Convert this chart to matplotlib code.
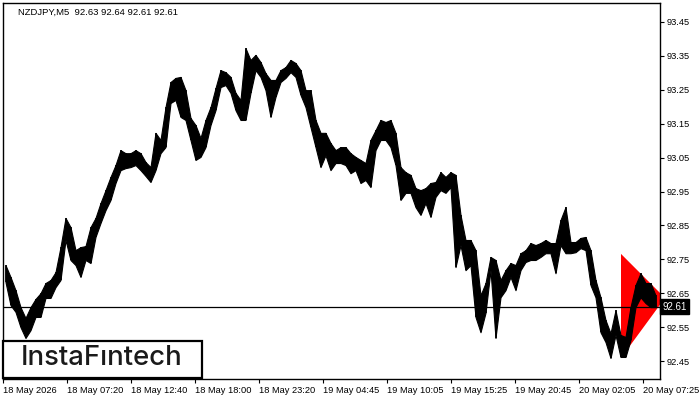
import numpy as np
import matplotlib
matplotlib.use("Agg")
from matplotlib import pyplot as plt
from matplotlib.patches import Rectangle

# NZDJPY M5 in 25-minute blocks (5 bars each)
high = [92.733, 92.698, 92.659, 92.609, 92.577, 92.609, 92.633, 92.650, 92.680, 92.689,
        92.712, 92.786, 92.872, 92.845, 92.777, 92.786, 92.789, 92.845, 92.872, 92.916,
        92.954, 92.993, 93.028, 93.072, 93.063, 93.063, 93.072, 93.063, 93.037, 93.022,
        93.123, 93.102, 93.199, 93.273, 93.285, 93.288, 93.249, 93.167, 93.146, 93.108,
        93.161, 93.199, 93.255, 93.308, 93.302, 93.288, 93.241, 93.220, 93.373, 93.338,
        93.353, 93.332, 93.299, 93.279, 93.279, 93.308, 93.317, 93.338, 93.329, 93.308,
        93.249, 93.249, 93.161, 93.123, 93.123, 93.093, 93.072, 93.081, 93.081, 93.063,
        93.052, 93.043, 93.034, 93.102, 93.131, 93.161, 93.155, 93.161, 93.123, 93.022,
        93.007, 92.999, 92.960, 92.954, 92.960, 92.975, 92.978, 93.007, 92.993, 93.007,
        92.999, 92.881, 92.807, 92.807, 92.777, 92.644, 92.680, 92.757, 92.748, 92.689,
        92.718, 92.739, 92.733, 92.768, 92.777, 92.798, 92.792, 92.798, 92.807, 92.798,
        92.798, 92.866, 92.904, 92.801, 92.801, 92.813, 92.816, 92.777, 92.689, 92.638,
        92.571, 92.532, 92.600, 92.527, 92.521, 92.609, 92.674, 92.709, 92.680, 92.680,
        92.644]
low = [92.683, 92.615, 92.595, 92.550, 92.518, 92.541, 92.580, 92.580, 92.636, 92.636,
       92.668, 92.689, 92.807, 92.748, 92.733, 92.698, 92.748, 92.739, 92.816, 92.857,
       92.895, 92.925, 92.975, 93.013, 93.019, 93.022, 93.028, 93.013, 92.996, 92.978,
       93.013, 93.063, 93.081, 93.211, 93.220, 93.170, 93.161, 93.102, 93.043, 93.052,
       93.081, 93.146, 93.190, 93.258, 93.264, 93.241, 93.190, 93.161, 93.161, 93.241,
       93.308, 93.288, 93.249, 93.170, 93.229, 93.273, 93.285, 93.302, 93.288, 93.235,
       93.199, 93.140, 93.081, 93.022, 93.057, 93.013, 93.034, 93.034, 93.028, 93.004,
       93.013, 92.975, 92.984, 92.963, 93.072, 93.102, 93.102, 93.081, 93.028, 92.925,
       92.946, 92.946, 92.904, 92.881, 92.916, 92.875, 92.934, 92.954, 92.946, 92.963,
       92.727, 92.792, 92.718, 92.733, 92.580, 92.535, 92.592, 92.718, 92.518, 92.638,
       92.659, 92.698, 92.659, 92.718, 92.742, 92.748, 92.748, 92.757, 92.768, 92.768,
       92.709, 92.792, 92.768, 92.768, 92.771, 92.783, 92.777, 92.674, 92.638, 92.535,
       92.506, 92.459, 92.527, 92.462, 92.462, 92.512, 92.609, 92.638, 92.621, 92.609,
       92.609]
bars_per_block = 5
last_price = 92.61

# pennant pattern (bar number, price)
pennant_bar = [618, 618, 662]
pennant_price = [92.766, 92.459, 92.636]

time_labels = ["18 May 2026", "18 May 07:20", "18 May 12:40", "18 May 18:00",
               "18 May 23:20", "19 May 04:45", "19 May 10:05", "19 May 15:25",
               "19 May 20:45", "20 May 02:05", "20 May 07:25"]
price_ticks = [92.45, 92.55, 92.65, 92.75, 92.85, 92.95, 93.05, 93.15, 93.25, 93.35, 93.45]

small_font = "Liberation Sans"

fig = plt.figure(figsize=(7, 4), dpi=100)
ax = fig.add_axes([3 / 700, 21 / 400, 657 / 700, 376 / 400])

# block centres
x = np.arange(len(high)) * bars_per_block + bars_per_block / 2

ax.fill(pennant_bar, pennant_price, color="#ff0000", lw=0, zorder=1)
# thin white seam across the pennant
ax.plot([625, 660], [92.47, 92.625], color="white", lw=0.8, zorder=2)
ax.fill_between(x, low, high, color="black", lw=0.8, edgecolor="black", zorder=3)
ax.vlines(x, low, high, color="black", lw=1.2, zorder=3)
ax.axhline(last_price, color="black", lw=0.9, zorder=4)

ax.set_xlim(0, 657)
ax.set_ylim(92.397, 93.506)

ax.set_xticks(np.arange(len(time_labels)) * 64)
ax.set_xticklabels(time_labels, ha="left", fontsize=6.7, family=small_font)
ax.yaxis.tick_right()
ax.set_yticks(price_ticks)
ax.set_yticklabels(["%.2f" % p for p in price_ticks], fontsize=6.7, family=small_font)
ax.tick_params(axis="both", direction="out", length=3, width=0.8, pad=2, colors="black")
for s in ax.spines.values():
    s.set_color("black")
    s.set_linewidth(1)

ax.text(1.004, last_price, "92.61", transform=ax.get_yaxis_transform(), ha="left",
        va="center", color="white", fontsize=7, family=small_font, zorder=6,
        bbox=dict(boxstyle="square,pad=0.25", fc="black", ec="black"), clip_on=False)

fig.text(18 / 700, 1 - 12 / 400, "NZDJPY,M5  92.63 92.64 92.61 92.61",
         fontsize=6.8, family=small_font, va="center", ha="left")

# logo box bottom-left
fig.add_artist(Rectangle((2.7 / 700, 21.7 / 400), 199 / 700, 37.6 / 400,
                         transform=fig.transFigure, fc="white", ec="black", lw=1.6, zorder=5))
fig.text(101.7 / 700, 42 / 400, "InstaF\u0131ntech", fontsize=19.8, family=["Inter", "Lato"],
         fontweight="medium", color="#1a1a1a", ha="center", va="center", zorder=6)

fig.savefig("out.png", dpi=100)
